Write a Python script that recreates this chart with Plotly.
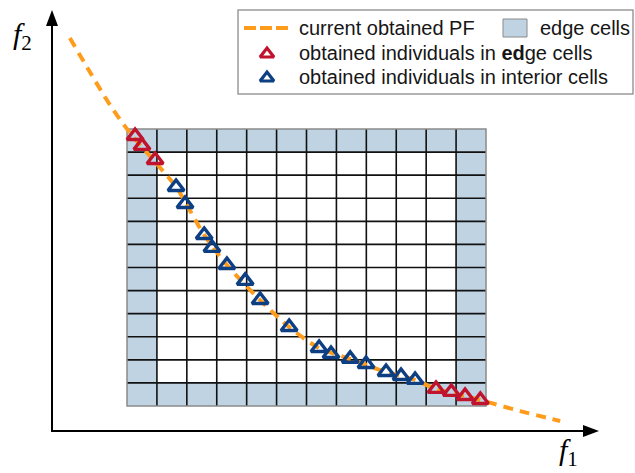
import plotly.graph_objects as go

# ---- data (f1, f2 in grid-cell units; grid spans 0..12 on both objectives) ----
n_cells = 12

pf_f1 = [-1.91, -1.24, -0.57, 0.10, 0.94, 1.64, 2.58, 3.34, 4.45, 5.42, 6.42,
         7.46, 8.66, 9.63, 10.33, 11.30, 11.81, 13.14, 14.48]
pf_f2 = [15.94, 14.47, 13.04, 11.83, 10.57, 9.49, 7.41, 6.11, 4.59, 3.42, 2.51,
         2.04, 1.47, 1.13, 0.74, 0.43, 0.26, -0.22, -0.65]

edge_f1 = [0.27, 0.50, 0.94, 10.33, 10.84, 11.30, 11.81]
edge_f2 = [11.70, 11.27, 10.66, 0.74, 0.61, 0.43, 0.26]

inner_f1 = [1.64, 1.94, 2.58, 2.84, 3.34, 3.95, 4.45, 5.42, 6.42, 6.82, 7.46,
            7.99, 8.66, 9.16, 9.63]
inner_f2 = [9.49, 8.75, 7.41, 6.85, 6.11, 5.42, 4.59, 3.42, 2.51, 2.25, 2.04,
            1.82, 1.47, 1.30, 1.13]

legend_labels = ["current obtained PF", "edge cells",
                 "obtained individuals in <b>ed</b>ge cells",
                 "obtained individuals in interior cells"]

# ---- styling ----
W, H = 635, 473
ORANGE = "#ff9c1c"
RED = "#c0142e"
BLUE = "#0d3f82"
CELL = "#bfd3e3"
FONT = "Liberation Sans, Arial, sans-serif"

# pixel frame of the cell grid, used to set the data ranges
gx0, gx1, gy0, gy1 = 127, 486, 406, 129
sx = (gx1 - gx0) / n_cells
sy = (gy0 - gy1) / n_cells
xr = [(0 - gx0) / sx, (W - gx0) / sx]
yr = [(gy0 - H) / sy, gy0 / sy]

fig = go.Figure()
shapes = []

# edge cells
for i in range(n_cells):
    for j in range(n_cells):
        if i in (0, n_cells - 1) or j in (0, n_cells - 1):
            shapes.append(dict(type="rect", xref="x", yref="y", x0=i, x1=i + 1,
                               y0=j, y1=j + 1, fillcolor=CELL, line_width=0,
                               layer="below"))
# inner grid lines
for k in range(1, n_cells):
    shapes.append(dict(type="line", xref="x", yref="y", x0=k, x1=k, y0=0,
                       y1=n_cells, line=dict(color="#111", width=1.6),
                       layer="below"))
    shapes.append(dict(type="line", xref="x", yref="y", x0=0, x1=n_cells,
                       y0=k, y1=k, line=dict(color="#111", width=1.6),
                       layer="below"))
# outer border of the grid
shapes.append(dict(type="rect", xref="x", yref="y", x0=0, x1=n_cells, y0=0,
                   y1=n_cells, line=dict(color="#8a8a8a", width=1.5),
                   layer="below"))

# axes with arrowheads (pixel overlay axes x2/y2)
ax_x, ax_y = 52, 431
shapes.append(dict(type="line", xref="x2", yref="y2", x0=ax_x, x1=ax_x,
                   y0=ax_y + 1, y1=24, line=dict(color="black", width=2)))
shapes.append(dict(type="line", xref="x2", yref="y2", x0=ax_x - 1, x1=585,
                   y0=ax_y, y1=ax_y, line=dict(color="black", width=2)))
shapes.append(dict(type="path", xref="x2", yref="y2",
                   path=f"M {ax_x} 10 L {ax_x-6} 26 L {ax_x+6} 26 Z",
                   fillcolor="black", line_width=0))
shapes.append(dict(type="path", xref="x2", yref="y2",
                   path=f"M 599 {ax_y} L 583 {ax_y-6} L 583 {ax_y+6} Z",
                   fillcolor="black", line_width=0))

# legend frame and samples
shapes.append(dict(type="rect", xref="x2", yref="y2", x0=238, x1=633, y0=10,
                   y1=94, line=dict(color="#9a9a9a", width=1.5),
                   fillcolor="white", layer="below"))
shapes.append(dict(type="line", xref="x2", yref="y2", x0=244, x1=288, y0=28,
                   y1=28, line=dict(color=ORANGE, width=4, dash="12px,4px")))
shapes.append(dict(type="rect", xref="x2", yref="y2", x0=503, x1=527, y0=19,
                   y1=37, fillcolor=CELL, line=dict(color="#8a8a8a", width=1)))

# Pareto front curve
fig.add_trace(go.Scatter(x=pf_f1, y=pf_f2, mode="lines",
                         line=dict(color=ORANGE, width=4, dash="10px,7px",
                                   shape="spline", smoothing=0.8),
                         hoverinfo="skip"))
# individuals
fig.add_trace(go.Scatter(x=inner_f1, y=inner_f2, mode="markers",
                         marker=dict(symbol="triangle-up-open", size=14,
                                     color=BLUE, line=dict(width=3.4, color=BLUE))))
fig.add_trace(go.Scatter(x=edge_f1, y=edge_f2, mode="markers",
                         marker=dict(symbol="triangle-up-open", size=14,
                                     color=RED, line=dict(width=3.4, color=RED))))
# legend markers
fig.add_trace(go.Scatter(x=[267], y=[54], xaxis="x2", yaxis="y2",
                         mode="markers",
                         marker=dict(symbol="triangle-up-open", size=12,
                                     color=RED, line=dict(width=3.2, color=RED))))
fig.add_trace(go.Scatter(x=[267], y=[78], xaxis="x2", yaxis="y2",
                         mode="markers",
                         marker=dict(symbol="triangle-up-open", size=12,
                                     color=BLUE, line=dict(width=3.2, color=BLUE))))

annotations = [
    dict(x=297, y=28, text=legend_labels[0]),
    dict(x=538, y=28, text=legend_labels[1]),
    dict(x=297, y=53, text=legend_labels[2]),
    dict(x=297, y=77, text=legend_labels[3]),
]
for a in annotations:
    a.update(xref="x2", yref="y2", xanchor="left", yanchor="middle",
             showarrow=False, font=dict(family=FONT, size=20, color="#161616"))
annotations += [
    dict(x=22, y=36, xref="x2", yref="y2", text="<i>f</i><sub>2</sub>",
         showarrow=False, font=dict(family="Liberation Serif, serif", size=30,
                                    color="black")),
    dict(x=568, y=452, xref="x2", yref="y2", text="<i>f</i><sub>1</sub>",
         showarrow=False, font=dict(family="Liberation Serif, serif", size=30,
                                    color="black")),
]

fig.update_layout(
    width=W, height=H, margin=dict(l=0, r=0, t=0, b=0),
    paper_bgcolor="white", plot_bgcolor="white", showlegend=False,
    xaxis=dict(range=xr, visible=False, fixedrange=True),
    yaxis=dict(range=yr, visible=False, fixedrange=True),
    xaxis2=dict(range=[0, W], overlaying="x", visible=False, fixedrange=True),
    yaxis2=dict(range=[H, 0], overlaying="y", visible=False, fixedrange=True),
    shapes=shapes, annotations=annotations,
)

fig.write_html("out.html", config={"displayModeBar": False})
